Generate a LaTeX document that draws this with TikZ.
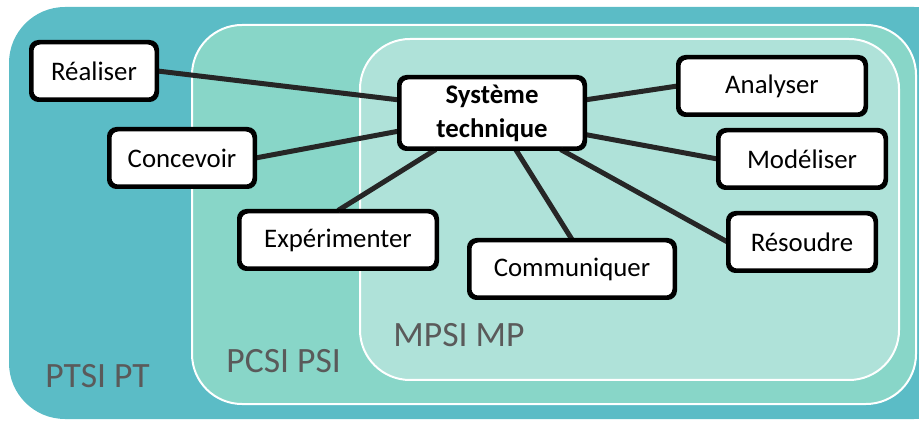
\documentclass[tikz,border=0pt]{standalone}
\usepackage{fontspec}
\setmainfont{Carlito}
\definecolor{ptsi}{HTML}{5BBCC6}
\definecolor{pcsi}{HTML}{88D6C8}
\definecolor{mpsi}{HTML}{AFE2D9}
\definecolor{filiere}{HTML}{5A5A5A}
\definecolor{trait}{HTML}{262626}
\tikzset{
	comp/.style={draw=black, line width=1.5pt, fill=white, rounded corners=4pt,
		minimum height=28pt, inner sep=0pt, font=\fontsize{13.4}{15}\selectfont},
	lien/.style={draw=trait, line width=2.5pt},
	zone/.style={draw=white, line width=1pt, rounded corners=25pt},
	classe/.style={anchor=base west, inner sep=0pt, text=filiere, font=\fontsize{17.8}{20}\selectfont}
}

\begin{document}
\begin{tikzpicture}[x=0.5pt,y=-0.5pt]
				%%%%% START %%%%%
				\useasboundingbox (0,0) rectangle (919,421);
				\clip (0,0) rectangle (919,421);
				
				% filieres
				\fill[ptsi, rounded corners=28pt] (9,7) rectangle (970,419);
				\draw[zone, fill=pcsi] (192,25) rectangle (916,404);
				\draw[zone, fill=mpsi] (360,39) rectangle (899,380);
				
				\node[classe] (pt) at (45,387) {PTSI PT};
				\node[classe] (psi) at (226,372) {PCSI PSI};
				\node[classe] (mp) at (393,347) {MPSI MP};
				
				% competences
				\node[comp, minimum width=92pt, minimum height=35pt, align=center,
					font=\fontsize{13.4}{17}\selectfont\bfseries] (sys) at (492,113) {Système\\technique};
				\node[comp, minimum width=62pt] (real) at (94,71) {Réaliser};
				\node[comp, minimum width=72pt] (conc) at (182,158) {Concevoir};
				\node[comp, minimum width=98pt] (exp) at (338,240) {Expérimenter};
				\node[comp, minimum width=102pt] (com) at (572,269) {Communiquer};
				\node[comp, minimum width=73pt] (res) at (802,242) {Résoudre};
				\node[comp, minimum width=83pt] (mod) at (802,159) {Modéliser};
				\node[comp, minimum width=93pt] (ana) at (772,86) {Analyser};
				
				\draw[lien] (sys.172) -- (real.east);
				\draw[lien] (sys.191) -- (conc.east);
				\draw[lien] (sys.213) -- (exp.north);
				\draw[lien] (sys.303) -- (com.north);
				\draw[lien] (sys.332) -- (res.west);
				\draw[lien] (sys.347) -- (mod.west);
				\draw[lien] (sys.8) -- (ana.west);
				
				% boites par-dessus les liens
				\foreach \n in {sys,real,conc,exp,com,res,mod,ana}
					\draw[line width=1.5pt, rounded corners=4pt] (\n.north west) rectangle (\n.south east);
				%%%%% END %%%%%
			\end{tikzpicture}
\end{document}
